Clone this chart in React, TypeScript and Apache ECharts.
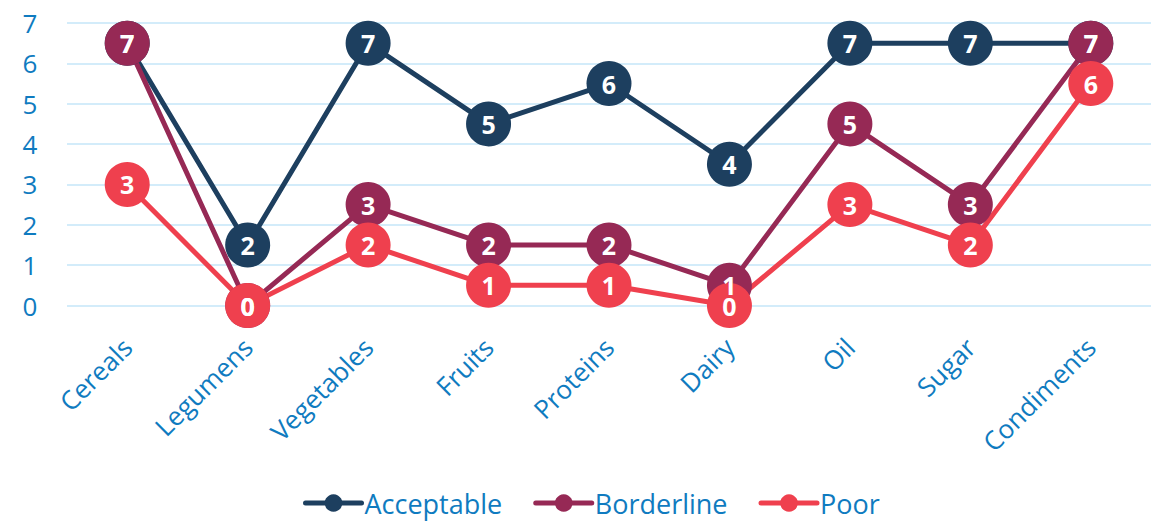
import React, { useEffect, useRef } from "react";
import * as echarts from "echarts";

const categories = ["Cereals", "Legumens", "Vegetables", "Fruits", "Proteins", "Dairy", "Oil", "Sugar", "Condiments"];
const acceptable = [6.5, 1.5, 6.5, 4.5, 5.5, 3.5, 6.5, 6.5, 6.5];
const borderline = [6.5, 0, 2.5, 1.5, 1.5, 0.5, 4.5, 2.5, 6.5];
const poor = [3, 0, 1.5, 0.5, 0.5, 0, 2.5, 1.5, 5.5];
const seriesNames = ["Acceptable", "Borderline", "Poor"];
const colors = ["#1d3f5f", "#962955", "#ef404e"];

const FONT = "'Open Sans', sans-serif";
const BLUE = "#0f7bc0";

export default function App() {
  const ref = useRef<HTMLDivElement>(null);
  useEffect(() => {
    if (!ref.current) return;
    const chart = echarts.init(ref.current, undefined, { renderer: "svg" });
    const datasets = [acceptable, borderline, poor];
    chart.setOption({
      animation: false,
      grid: { left: 67, right: 9, top: 23, bottom: 216.5 },
      legend: {
        top: 484,
        left: 298,
        itemWidth: 56,
        itemHeight: 22,
        itemGap: 31,
        lineStyle: { width: 5, cap: "round" },
        textStyle: { color: BLUE, fontSize: 27, fontFamily: FONT, lineHeight: 28, padding: [0, 0, 0, -2] },
        data: seriesNames,
      },
      xAxis: {
        type: "category",
        data: categories,
        boundaryGap: true,
        axisLine: { show: false },
        axisTick: { show: false },
        axisLabel: { rotate: 45, color: BLUE, fontSize: 26, fontFamily: FONT, margin: 37, interval: 0 },
      },
      yAxis: {
        type: "value",
        min: 0,
        max: 7,
        interval: 1,
        axisLine: { show: false },
        axisTick: { show: false },
        splitLine: { lineStyle: { color: "#d3ecfa", width: 2 } },
        axisLabel: { color: BLUE, fontSize: 26, fontFamily: FONT, margin: 37, align: "center" },
      },
      series: seriesNames.map((name, i) => ({
        name,
        type: "line",
        data: datasets[i],
        symbol: "circle",
        symbolSize: 45,
        color: colors[i],
        lineStyle: { width: 5, color: colors[i] },
        itemStyle: { color: colors[i] },
        label: {
          show: true,
          position: "inside",
          color: "#ffffff",
          fontWeight: "bold",
          fontSize: 25,
          fontFamily: FONT,
          formatter: (p: any) => String(Math.round(p.value)),
        },
      })),
    });
    return () => chart.dispose();
  }, []);
  return <div ref={ref} style={{ position: "absolute", left: 0, top: 0, width: 1160, height: 522 }} />;
}
